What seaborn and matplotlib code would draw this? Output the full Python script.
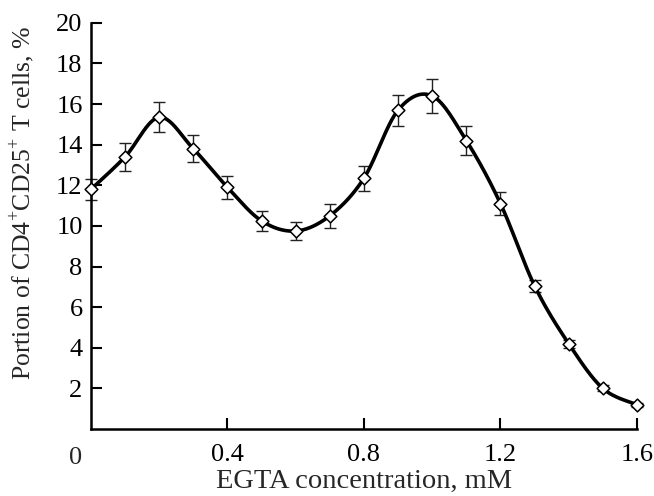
import numpy as np
import pandas as pd
import matplotlib
matplotlib.use("Agg")
import matplotlib.pyplot as plt
import seaborn as sns

# EGTA concentration (mM) and share of CD4+CD25+ T cells (%)
egta_mM = [0.0, 0.1, 0.2, 0.3, 0.4, 0.5, 0.6, 0.7, 0.8,
           0.9, 1.0, 1.1, 1.2, 1.3, 1.4, 1.5, 1.6]
treg_pct = [11.8, 13.4, 15.35, 13.8, 11.9, 10.25, 9.75, 10.5, 12.35,
            15.7, 16.4, 14.2, 11.1, 7.05, 4.2, 2.0, 1.2]
treg_err = [0.5, 0.68, 0.74, 0.67, 0.57, 0.5, 0.45, 0.6, 0.62,
            0.77, 0.82, 0.71, 0.57, 0.3, 0.2, 0.15, 0.1]

x_ticks = [0.4, 0.8, 1.2, 1.6]
x_tick_labels = ["0.4", "0.8", "1.2", "1.6"]
y_ticks = [2, 4, 6, 8, 10, 12, 14, 16, 18, 20]


def smooth_curve(x, y, steps=40):
    """Bezier smoothing through every point (Catmull-Rom style)."""
    x = np.asarray(x, float)
    y = np.asarray(y, float)
    px = np.concatenate([[x[0]], x, [x[-1]]])
    py = np.concatenate([[y[0]], y, [y[-1]]])
    xs, ys = [], []
    t = np.linspace(0, 1, steps)
    for i in range(1, len(px) - 2):
        p0 = np.array([px[i], py[i]])
        p3 = np.array([px[i + 1], py[i + 1]])
        c1 = p0 + (np.array([px[i + 1], py[i + 1]]) - np.array([px[i - 1], py[i - 1]])) / 6
        c2 = p3 - (np.array([px[i + 2], py[i + 2]]) - np.array([px[i], py[i]])) / 6
        b = ((1 - t) ** 3)[:, None] * p0 + (3 * (1 - t) ** 2 * t)[:, None] * c1 \
            + (3 * (1 - t) * t ** 2)[:, None] * c2 + (t ** 3)[:, None] * p3
        xs.append(b[:, 0])
        ys.append(b[:, 1])
    return np.concatenate(xs), np.concatenate(ys)


sns.set_theme(style="ticks")
plt.rcParams["font.family"] = ["Liberation Serif", "DejaVu Serif"]
plt.rcParams["mathtext.fontset"] = "custom"
plt.rcParams["mathtext.rm"] = "Liberation Serif"

df = pd.DataFrame({"egta": egta_mM, "pct": treg_pct, "err": treg_err})
cx, cy = smooth_curve(df["egta"], df["pct"])
curve = pd.DataFrame({"egta": cx, "pct": cy})

fig = plt.figure(figsize=(6.54, 4.96), dpi=100)
ax = fig.add_axes([0.139, 0.135, 0.835, 0.819])

ax.errorbar(df["egta"], df["pct"], yerr=df["err"], fmt="none",
            ecolor="#222222", elinewidth=1.0, capsize=4.5, capthick=1.0,
            zorder=2, clip_on=False)
sns.lineplot(data=curve, x="egta", y="pct", ax=ax, color="black",
             linewidth=2.6, sort=False, estimator=None, zorder=3)
sns.scatterplot(data=df, x="egta", y="pct", ax=ax, marker="D", s=42,
                facecolor="white", edgecolor="black", linewidth=1.1,
                zorder=4, clip_on=False)

ax.set_xlim(0, 1.6)
ax.set_ylim(0, 20)
ax.set_xticks(x_ticks)
ax.set_xticklabels(x_tick_labels)
ax.set_yticks(y_ticks)
ax.set_yticklabels([str(v) for v in y_ticks])

ax.tick_params(axis="both", direction="in", length=8, width=1.5,
               labelsize=19, colors="black")
ax.tick_params(axis="x", pad=11)
ax.tick_params(axis="y", pad=6)
ax.annotate("0", xy=(0, 0), xycoords="data", xytext=(-11, -21),
            textcoords="offset points", ha="center", va="center", fontsize=19)

for side in ["top", "right"]:
    ax.spines[side].set_visible(False)
for side in ["left", "bottom"]:
    ax.spines[side].set_linewidth(1.8)
    ax.spines[side].set_color("black")

ax.set_xlabel("EGTA concentration, mM", fontsize=20.5, labelpad=2)
ax.set_ylabel("Portion of CD4$^{+}$CD25$^{+}$ T cells, %", fontsize=18.5)
ax.yaxis.set_label_coords(-0.099, 0.557)

fig.savefig("out.png", dpi=100)
